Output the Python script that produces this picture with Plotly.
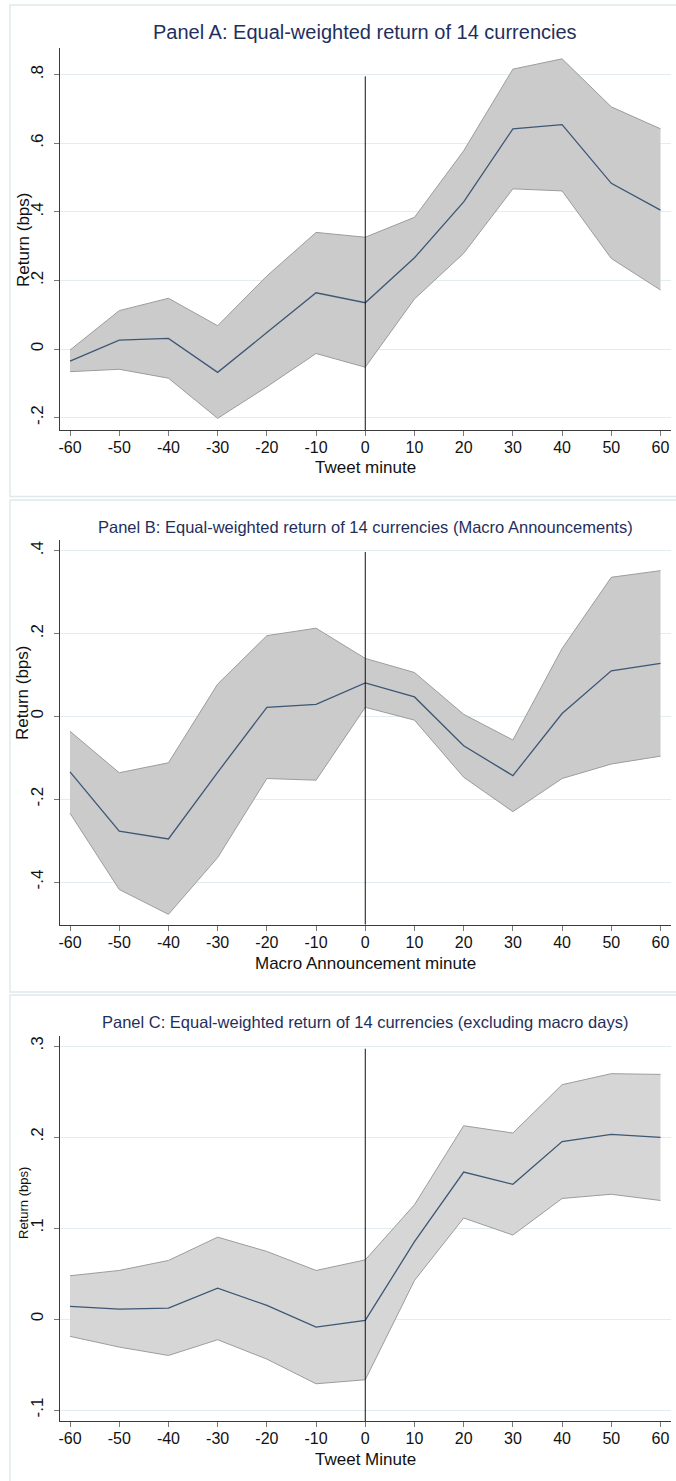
import plotly.graph_objects as go

# Event-time grid (minutes relative to the event)
minutes = [-60, -50, -40, -30, -20, -10, 0, 10, 20, 30, 40, 50, 60]
x_ticktext = ["-60", "-50", "-40", "-30", "-20", "-10", "0", "10", "20", "30", "40", "50", "60"]

# Panel A: tweets, all days
a_mean = [-0.035, 0.026, 0.031, -0.068, 0.048, 0.164, 0.135, 0.266, 0.429, 0.642, 0.654, 0.483, 0.405]
a_upper = [-0.003, 0.112, 0.148, 0.068, 0.213, 0.340, 0.326, 0.384, 0.578, 0.816, 0.846, 0.706, 0.642]
a_lower = [-0.066, -0.059, -0.085, -0.202, -0.110, -0.013, -0.053, 0.146, 0.279, 0.467, 0.461, 0.264, 0.172]
a_yticks = [-0.2, 0, 0.2, 0.4, 0.6, 0.8]
a_yticktext = ["-.2", "0", ".2", ".4", ".6", ".8"]

# Panel B: macro announcements
b_mean = [-0.134, -0.277, -0.296, -0.135, 0.022, 0.029, 0.081, 0.047, -0.071, -0.143, 0.007, 0.110, 0.128]
b_upper = [-0.036, -0.136, -0.112, 0.078, 0.195, 0.213, 0.140, 0.106, 0.005, -0.057, 0.164, 0.336, 0.352]
b_lower = [-0.234, -0.418, -0.478, -0.341, -0.150, -0.154, 0.022, -0.009, -0.147, -0.230, -0.150, -0.115, -0.096]
b_yticks = [-0.4, -0.2, 0, 0.2, 0.4]
b_yticktext = ["-.4", "-.2", "0", ".2", ".4"]

# Panel C: tweets, excluding macro days
c_mean = [0.0139, 0.0110, 0.0121, 0.034, 0.015, -0.0088, -0.0015, 0.085, 0.1615, 0.148, 0.195, 0.203, 0.1996]
c_upper = [0.0476, 0.0534, 0.0644, 0.090, 0.0743, 0.0534, 0.065, 0.1256, 0.2124, 0.2044, 0.2575, 0.2696, 0.2688]
c_lower = [-0.019, -0.0308, -0.040, -0.0227, -0.044, -0.0711, -0.0667, 0.0424, 0.111, 0.0923, 0.1325, 0.1371, 0.1303]
c_yticks = [-0.1, 0, 0.1, 0.2, 0.3]
c_yticktext = ["-.1", "0", ".1", ".2", ".3"]

W, H = 676, 1481
FONT = "Liberation Sans, Arial, sans-serif"
NAVY = "#1f2f5c"
GRID = "#e3ecee"
BOX = "#dfe9ea"


def py(p):
    """Pixel row -> paper y."""
    return 1 - p / H


def px(p):
    return p / W


panels = [
    dict(mean=a_mean, upper=a_upper, lower=a_lower, yt=a_yticks, ytt=a_yticktext,
         top=48, bottom=430, yr=[-0.236, 0.8776], fill="#cbcbcb", vtop=0.795,
         title="Panel A: Equal-weighted return of 14 currencies", title_y=32, title_size=20,
         xtitle="Tweet minute", xtitle_y=467, ytitle_y=240, ytitle_size=17,
         box=(5, 496.5)),
    dict(mean=b_mean, upper=b_upper, lower=b_lower, yt=b_yticks, ytt=b_yticktext,
         top=540, bottom=924.7, yr=[-0.503, 0.426], fill="#cbcbcb", vtop=0.397,
         title="Panel B: Equal-weighted return of 14 currencies (Macro Announcements)", title_y=527, title_size=16.5,
         xtitle="Macro Announcement minute", xtitle_y=963, ytitle_y=693, ytitle_size=17,
         box=(500, 992)),
    dict(mean=c_mean, upper=c_upper, lower=c_lower, yt=c_yticks, ytt=c_yticktext,
         top=1036, bottom=1421, yr=[-0.112, 0.311], fill="#d6d6d6", vtop=0.297,
         title="Panel C: Equal-weighted return of 14 currencies (excluding macro days)", title_y=1022, title_size=16.5,
         xtitle="Tweet Minute", xtitle_y=1459, ytitle_y=1203, ytitle_size=13,
         box=(995, 1490)),
]

fig = go.Figure()
shapes = []
annotations = []
x_left, x_right = 59.5, 670.5
x_range = [-62.14, 62.03]

for i, p in enumerate(panels):
    n = "" if i == 0 else str(i + 1)
    xa, ya = "x" + n, "y" + n
    # confidence band: lower bound then upper bound filled to it
    fig.add_trace(go.Scatter(x=minutes, y=p["lower"], xaxis=xa, yaxis=ya, mode="lines",
                             line=dict(color="#9c9c9c", width=1), showlegend=False, hoverinfo="skip"))
    fig.add_trace(go.Scatter(x=minutes, y=p["upper"], xaxis=xa, yaxis=ya, mode="lines",
                             line=dict(color="#9c9c9c", width=1), fill="tonexty",
                             fillcolor=p["fill"], showlegend=False, hoverinfo="skip"))
    fig.add_trace(go.Scatter(x=minutes, y=p["mean"], xaxis=xa, yaxis=ya, mode="lines",
                             line=dict(color="#3d5775", width=1.3), showlegend=False))

    dom_y = [py(p["bottom"]), py(p["top"])]
    fig.update_layout(**{
        ("xaxis" + n): dict(domain=[px(x_left), px(x_right)], range=x_range, anchor=ya,
                             tickvals=minutes, ticktext=x_ticktext, ticks="outside", ticklen=5,
                             tickcolor="#7a7a7a", tickwidth=1, showline=True, linecolor="#3a3a3a",
                             linewidth=1, showgrid=False, zeroline=False, ticklabelstandoff=-2,
                             tickfont=dict(family=FONT, size=16, color="#111111")),
        ("yaxis" + n): dict(domain=dom_y, range=p["yr"], anchor=xa,
                             tickvals=p["yt"], ticktext=p["ytt"], tickangle=-90, ticks="outside",
                             ticklen=5, tickcolor="#7a7a7a", tickwidth=1, showline=True,
                             linecolor="#3a3a3a", linewidth=1, showgrid=True, gridcolor=GRID,
                             gridwidth=1, zeroline=False, ticklabelstandoff=4,
                             tickfont=dict(family=FONT, size=17, color="#111111")),
    })

    # reference line at the event minute
    shapes.append(dict(type="line", xref=xa, yref=ya, x0=0, x1=0, y0=p["yr"][0], y1=p["vtop"],
                       line=dict(color="#111111", width=1), layer="above"))
    # light outer frame around the panel
    shapes.append(dict(type="rect", xref="paper", yref="paper", x0=px(10), x1=px(690),
                       y0=py(p["box"][1]), y1=py(p["box"][0]),
                       line=dict(color=BOX, width=1.5), layer="below"))

    annotations.append(dict(text=p["title"], xref="paper", yref="paper", x=px(365), y=py(p["title_y"]),
                            xanchor="center", yanchor="middle", showarrow=False,
                            font=dict(family=FONT, size=p["title_size"], color=NAVY)))
    annotations.append(dict(text=p["xtitle"], xref="paper", yref="paper", x=px(365), y=py(p["xtitle_y"]),
                            xanchor="center", yanchor="middle", showarrow=False,
                            font=dict(family=FONT, size=17, color="#111111")))
    annotations.append(dict(text="Return (bps)", xref="paper", yref="paper", x=px(23), y=py(p["ytitle_y"]),
                            xanchor="center", yanchor="middle", textangle=-90, showarrow=False,
                            font=dict(family=FONT, size=p["ytitle_size"], color="#111111")))

fig.update_layout(width=W, height=H, margin=dict(l=0, r=0, t=0, b=0),
                  paper_bgcolor="white", plot_bgcolor="white",
                  shapes=shapes, annotations=annotations, showlegend=False)

fig.write_html("out.html")
